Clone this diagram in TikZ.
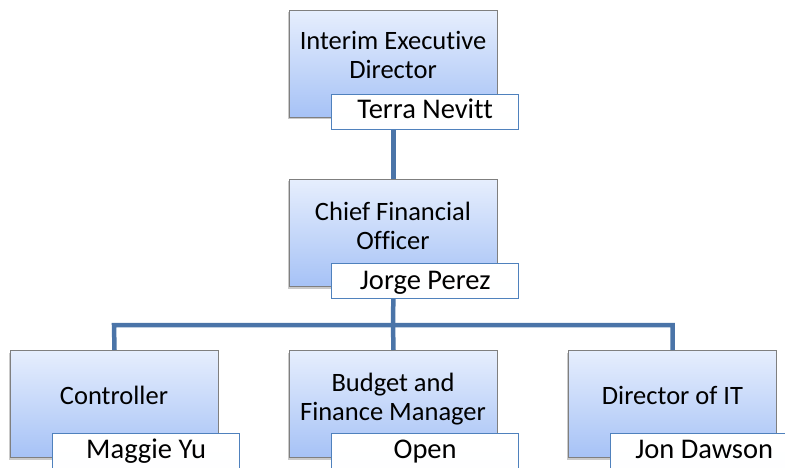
\documentclass[tikz,border=0pt]{standalone}
\usepackage{fontspec}
\setmainfont[Ligatures=NoCommon]{Carlito}
\usetikzlibrary{shadows}
\definecolor{linkblue}{HTML}{4A74A8}
\definecolor{boxtop}{HTML}{E6EEFD}
\definecolor{boxbot}{HTML}{A6C2F6}
\definecolor{boxedge}{HTML}{7F7F7F}
\definecolor{nameedge}{HTML}{4F81BD}
\tikzset{
  rolebox/.style={draw=boxedge, line width=1pt, top color=boxtop, bottom color=boxbot,
    minimum width=208pt, minimum height=107pt, inner sep=0pt, anchor=north west,
    drop shadow={shadow xshift=-2pt, shadow yshift=-2pt, opacity=0.35, fill=black!60}},
  namebox/.style={draw=nameedge, line width=1.3pt, top color=white, bottom color=white!96!boxtop,
    minimum width=187pt, minimum height=35pt, inner sep=0pt, anchor=north west},
  roletext/.style={font=\fontsize{26.5}{29}\selectfont, align=center, anchor=base, inner sep=0pt},
  nametext/.style={font=\fontsize{28.5}{32}\selectfont, anchor=base, inner sep=0pt},
  link/.style={draw=linkblue, line width=4.5pt}
}
\begin{document}
\begin{tikzpicture}[x=1pt, y=-1pt]
\useasboundingbox (0,0) rectangle (785,468);
% role boxes
\node[rolebox] (b1) at (289,10) {};
\node[rolebox] (b2) at (289,179) {};
\node[rolebox] (b3) at (10,350) {};
\node[rolebox] (b4) at (289,350) {};
\node[rolebox] (b5) at (568,350) {};
% connectors
\coordinate (hl) at (114,325);
\coordinate (hm) at (393,325);
\coordinate (hr) at (672.5,325);
\draw[link] (b1.south) -- (b2.north);
\draw[link] (b2.south) -- (hm);
\draw[link] (b3.north) -- (hl) -- (hr) -- (b5.north);
\draw[link] (hm) -- (b4.north);
% role texts (base = baseline of last line)
\node[roletext] (t1) at (393,79) {Interim Executive\\Director};
\node[roletext] (t2) at (393,249) {Chief Financial\\Officer};
\node[roletext] (t3) at (114,404) {Controller};
\node[roletext] (t4) at (393,420) {Budget and\\Finance Manager};
\node[roletext] (t5) at (672.5,404) {Director of IT};
% name boxes
\node[namebox] (n1) at (331,94) {};
\node[namebox] (n2) at (331,263) {};
\node[namebox] (n3) at (52,433) {};
\node[namebox] (n4) at (331,433) {};
\node[namebox] (n5) at (610,433) {};
\node[nametext, yshift=-24.5pt] (m1) at (n1.north) {Terra Nevitt};
\node[nametext, yshift=-26pt] (m2) at (n2.north) {Jorge Perez};
\node[nametext, yshift=-25pt] (m3) at (n3.north) {Maggie Yu};
\node[nametext, yshift=-25pt] (m4) at (n4.north) {Open};
\node[nametext, yshift=-25pt] (m5) at (n5.north) {Jon Dawson};
\end{tikzpicture}
\end{document}
